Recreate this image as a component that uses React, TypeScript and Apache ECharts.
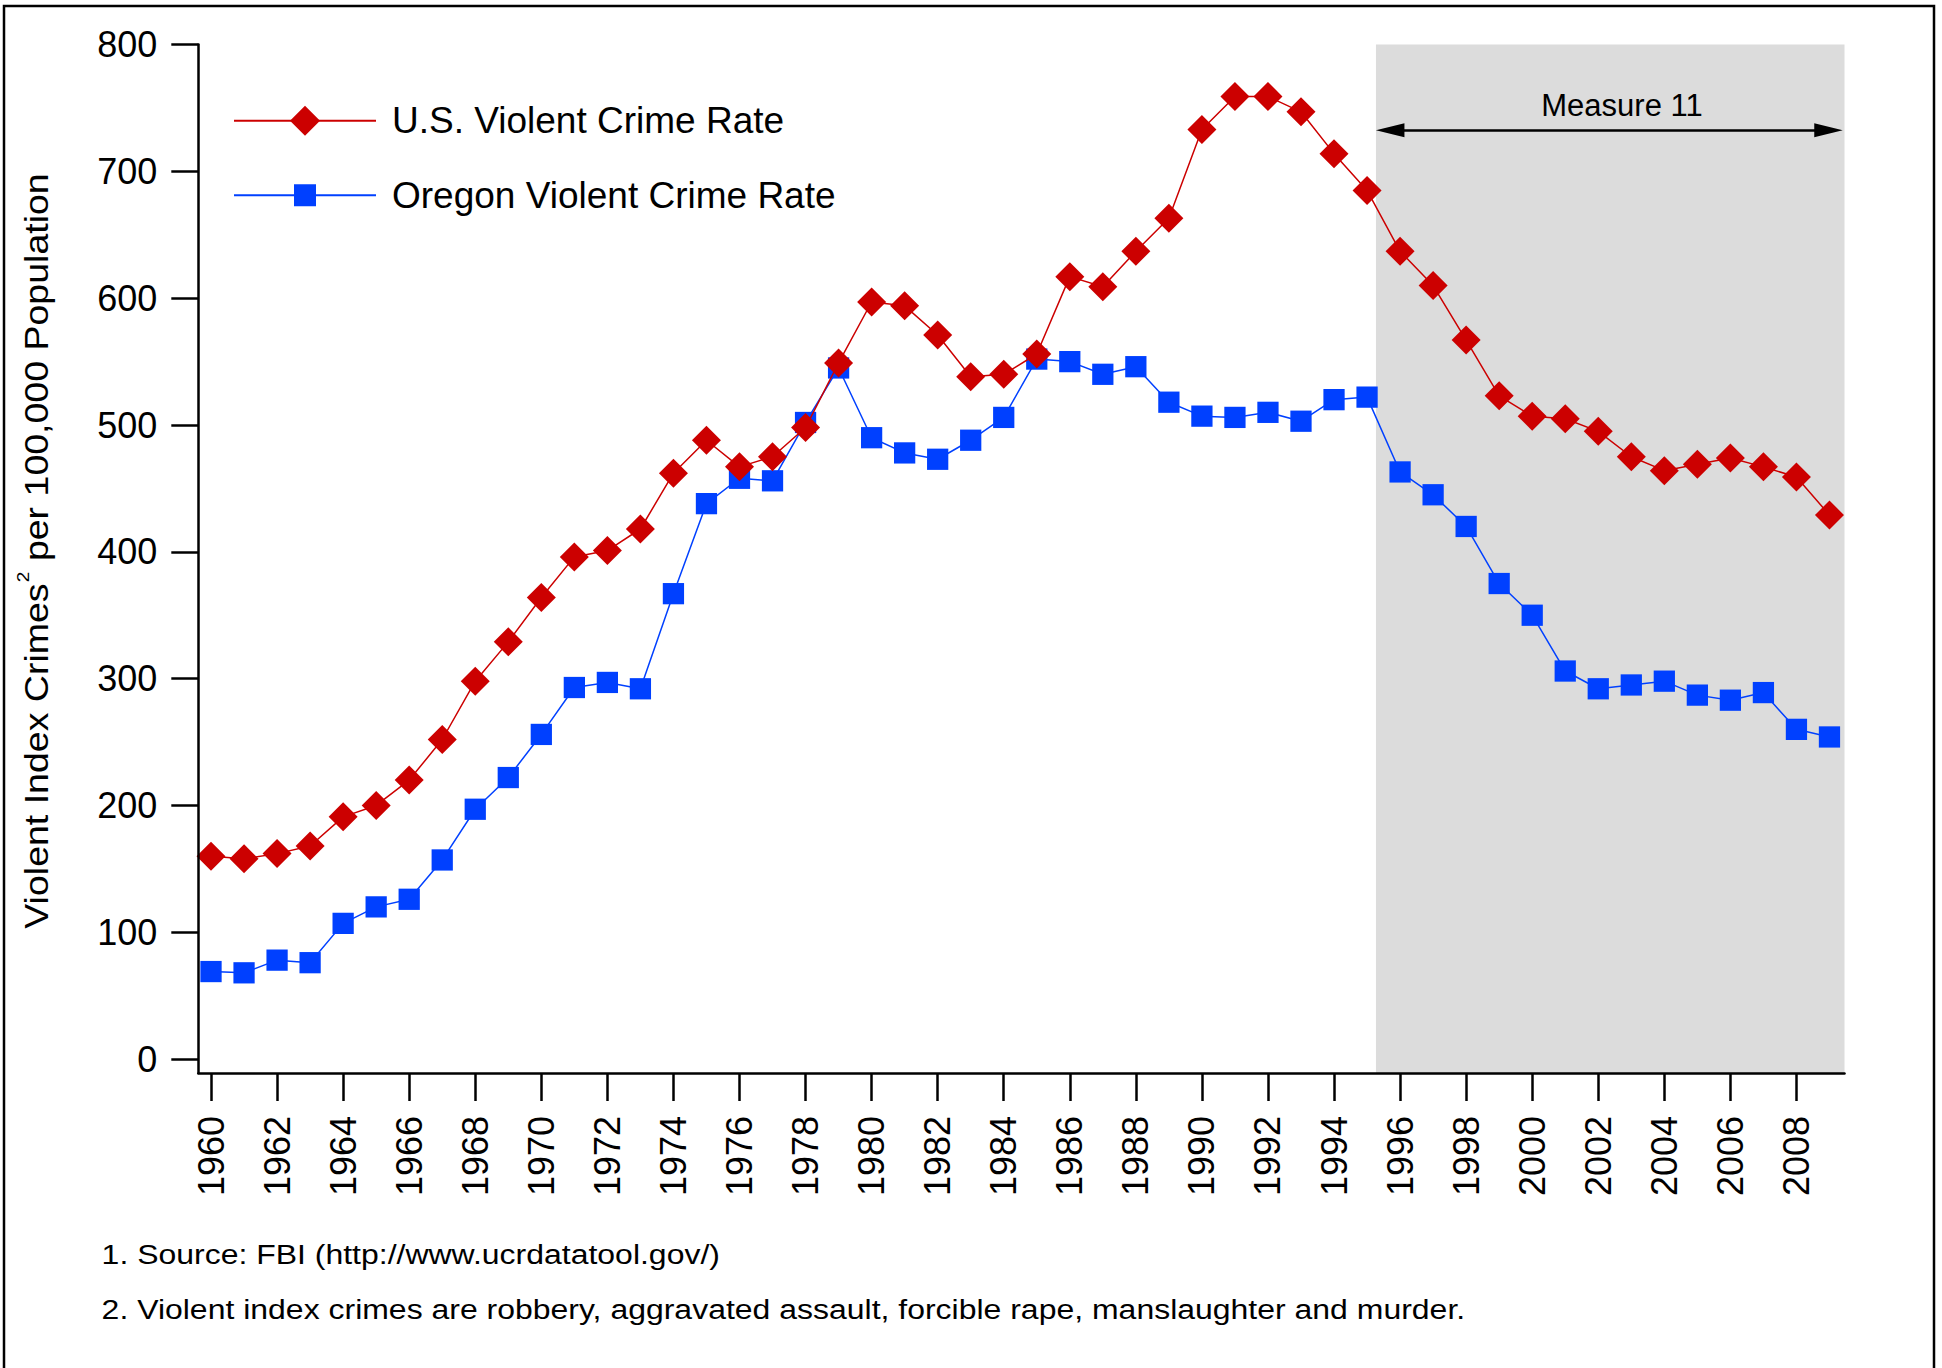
import React, { useEffect, useRef } from 'react';
import * as echarts from 'echarts';

const years = [
  1960, 1961, 1962, 1963, 1964, 1965, 1966, 1967, 1968, 1969,
  1970, 1971, 1972, 1973, 1974, 1975, 1976, 1977, 1978, 1979,
  1980, 1981, 1982, 1983, 1984, 1985, 1986, 1987, 1988, 1989,
  1990, 1991, 1992, 1993, 1994, 1995, 1996, 1997, 1998, 1999,
  2000, 2001, 2002, 2003, 2004, 2005, 2006, 2007, 2008, 2009,
];

const usRate = [
  160, 158, 162, 168, 191, 200, 220, 252, 298, 329,
  364, 396, 401, 418, 462, 488, 467, 475, 498, 549,
  597, 594, 571, 538, 540, 556, 617, 609, 637, 663,
  733, 759, 759, 747, 714, 685, 637, 610, 567, 523,
  507, 505, 495, 475, 464, 469, 474, 467, 459, 429,
];

const oregonRate = [
  69, 68, 78, 76, 107, 120, 126, 157, 197, 222,
  256, 293, 297, 292, 367, 438, 458, 456, 502, 545,
  490, 478, 473, 488, 506, 552, 550, 540, 546, 518,
  507, 506, 510, 503, 520, 522, 463, 445, 420, 375,
  350, 306, 292, 295, 298, 287, 283, 289, 260, 254,
];

const yTicks = [0, 100, 200, 300, 400, 500, 600, 700, 800];
const xTickYears = [
  1960, 1962, 1964, 1966, 1968, 1970, 1972, 1974, 1976, 1978,
  1980, 1982, 1984, 1986, 1988, 1990, 1992, 1994, 1996, 1998,
  2000, 2002, 2004, 2006, 2008,
];

const seriesNames = ['U.S. Violent Crime Rate', 'Oregon Violent Crime Rate'];
const measureLabel = 'Measure 11';
const yTitleParts = ['Violent Index Crimes', '2', ' per 100,000 Population'];
const footnotes = [
  '1. Source: FBI (http://www.ucrdatatool.gov/)',
  '2. Violent index crimes are robbery, aggravated assault, forcible rape, manslaughter and murder.',
];

// axis ranges and annotation coordinates (data space)
const xMin = 1959.615;
const xMax = 2009.455;
const yMin = -11;
const yMax = 800;
const measureStart = 1995.27;
const arrowY = 732.5;
const arrowStart = 1995.70;
const arrowEnd = 2008.97;

const FONT = '"Liberation Sans", Arial, Helvetica, sans-serif';
const RED = '#cc0000';
const BLUE = '#0040ff';
const SQUARE = 'path://M0,0M30,30M4,4L26,4L26,26L4,26Z';
const TRI = 'path://M5,0L10,20L0,20Z';

export default function App() {
  const ref = useRef<HTMLDivElement>(null);

  useEffect(() => {
    if (!ref.current) return;
    const chart = echarts.init(ref.current, null, { renderer: 'svg' });

    const option: any = {
      animation: false,
      backgroundColor: '#ffffff',
      grid: {
        left: 198.3,
        right: 97.5,
        top: 44.6,
        bottom: 295,
        containLabel: false,
        outerBoundsMode: 'none',
      },
      legend: {
        data: seriesNames,
        orient: 'vertical',
        left: 233,
        top: 102.25,
        padding: 0,
        itemWidth: 142,
        itemHeight: 37.5,
        itemGap: 37.5,
        selectedMode: false,
        textStyle: {
          fontSize: 37,
          color: '#000',
          fontFamily: FONT,
          padding: [0, 0, 0, 11],
        },
      },
      xAxis: {
        type: 'value',
        min: xMin,
        max: xMax,
        z: 5,
        splitLine: { show: false },
        axisLine: { onZero: false, lineStyle: { color: '#000', width: 2.5 } },
        axisTick: {
          length: 28,
          customValues: xTickYears,
          lineStyle: { color: '#000', width: 2.5 },
        },
        axisLabel: {
          customValues: xTickYears,
          rotate: 90,
          margin: 43,
          fontSize: 36,
          color: '#000',
          fontFamily: FONT,
          formatter: (v: number) => String(v),
        },
      },
      yAxis: {
        type: 'value',
        min: yMin,
        max: yMax,
        z: 5,
        splitLine: { show: false },
        axisLine: { show: true, onZero: false, lineStyle: { color: '#000', width: 2.5 } },
        axisTick: {
          show: true,
          length: 27,
          customValues: yTicks,
          lineStyle: { color: '#000', width: 2.5 },
        },
        axisLabel: {
          customValues: yTicks,
          margin: 41,
          fontSize: 36,
          color: '#000',
          fontFamily: FONT,
          formatter: (v: number) => String(v),
        },
      },
      series: [
        {
          name: seriesNames[1],
          type: 'line',
          z: 3,
          data: years.map((y, i) => [y, oregonRate[i]]),
          symbol: SQUARE,
          symbolSize: 29,
          color: BLUE,
          itemStyle: { color: BLUE, borderWidth: 0 },
          lineStyle: { color: BLUE, width: 1.5 },
          markArea: {
            silent: true,
            z: 1,
            itemStyle: { color: '#dcdcdc' },
            label: { show: false },
            data: [[{ coord: [measureStart, yMax] }, { coord: [xMax, yMin] }]],
          },
          markLine: {
            silent: true,
            symbol: [TRI, TRI],
            symbolSize: [14, 28.5],
            label: { show: false },
            lineStyle: { color: '#000', width: 2.5, type: 'solid' },
            itemStyle: { color: '#000' },
            data: [[{ coord: [arrowStart, arrowY] }, { coord: [arrowEnd, arrowY] }]],
          },
        },
        {
          name: seriesNames[0],
          type: 'line',
          z: 4,
          data: years.map((y, i) => [y, usRate[i]]),
          symbol: 'diamond',
          symbolSize: 29,
          color: RED,
          itemStyle: { color: RED, borderWidth: 0 },
          lineStyle: { color: RED, width: 1.5 },
        },
      ],
      graphic: [
        {
          type: 'polyline',
          silent: true,
          z: 10,
          shape: { points: [[4, 1368], [4, 6], [1934, 6], [1934, 1368]] },
          style: { stroke: '#000', lineWidth: 2.5, fill: 'none' },
        },
        {
          type: 'text',
          z: 10,
          x: 34.25,
          y: 551,
          rotation: Math.PI / 2,
          scaleX: 1.12,
          style: {
            text: `{a|${yTitleParts[0]}}{s|${yTitleParts[1]}}{a|${yTitleParts[2]}}`,
            align: 'center',
            verticalAlign: 'middle',
            rich: {
              a: { fontSize: 33.5, fontFamily: FONT, fill: '#000', verticalAlign: 'bottom' },
              s: {
                fontSize: 17,
                fontFamily: FONT,
                fill: '#000',
                verticalAlign: 'top',
                padding: [0, 0, 22.5, 1],
              },
            },
          },
        },
        {
          type: 'text',
          z: 10,
          x: 1622,
          y: 105,
          style: {
            text: measureLabel,
            fontSize: 31,
            fontFamily: FONT,
            fill: '#000',
            align: 'center',
            verticalAlign: 'middle',
          },
        },
        {
          type: 'text',
          z: 10,
          x: 101.6,
          y: 1254,
          scaleX: 1.142,
          style: {
            text: footnotes[0],
            fontSize: 28,
            fontFamily: FONT,
            fill: '#000',
            align: 'left',
            verticalAlign: 'middle',
          },
        },
        {
          type: 'text',
          z: 10,
          x: 101.6,
          y: 1309,
          scaleX: 1.142,
          style: {
            text: footnotes[1],
            fontSize: 28,
            fontFamily: FONT,
            fill: '#000',
            align: 'left',
            verticalAlign: 'middle',
          },
        },
      ],
    };

    chart.setOption(option);
    return () => chart.dispose();
  }, []);

  return (
    <div
      ref={ref}
      style={{ position: 'absolute', left: 0, top: 0, width: 1942, height: 1368 }}
    />
  );
}
